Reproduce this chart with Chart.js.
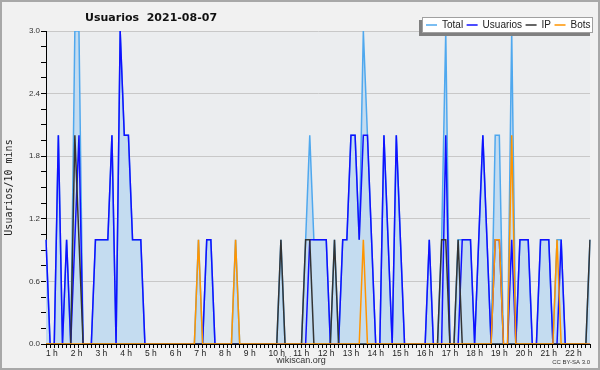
<!DOCTYPE html>
<html>
<head>
<meta charset="utf-8">
<script src="https://cdn.jsdelivr.net/npm/chart.js@4.4.0/dist/chart.umd.min.js"></script>
<style>
html,body{margin:0;padding:0;background:#f1f1f1;}
</style>
</head>
<body>
<canvas id="myChart" width="600" height="370"></canvas>
<script>
// hour labels, one every 6 slots of 10 minutes (first slot is 1:00)
const hourLabels=["1 h","2 h","3 h","4 h","5 h","6 h","7 h","8 h","9 h","10 h","11 h",
  "12 h","13 h","14 h","15 h","16 h","17 h","18 h","19 h","20 h","21 h","22 h"];
const yTicks=[0,0.6,1.2,1.8,2.4,3.0];

const total=[
1,0,0,2,0,1, 0,3,3,0,0,0, 1,1,1,1,2,0, 3,2,2,1,1,1,
0,0,0,0,0,0, 0,0,0,0,0,0, 0,1,0,1,1,0, 0,0,0,0,1,0,
0,0,0,0,0,0, 0,0,0,1,0,0, 0,0,0,1,2,1, 1,1,1,0,1,0,
1,1,2,2,1,3, 2,1,0,0,2,1, 0,2,1,0,0,0, 0,0,0,1,0,0,
1,3,0,0,1,1, 1,1,0,1,2,1, 0,2,2,0,0,3, 0,1,1,1,0,0,
1,1,1,0,1,1, 0,0,0,0,0,0, 1];
const usuarios=[
1,0,0,2,0,1, 0,1,2,0,0,0, 1,1,1,1,2,0, 3,2,2,1,1,1,
0,0,0,0,0,0, 0,0,0,0,0,0, 0,0,0,1,1,0, 0,0,0,0,0,0,
0,0,0,0,0,0, 0,0,0,0,0,0, 0,0,0,0,1,1, 1,1,1,0,0,0,
1,1,2,2,1,2, 2,1,0,0,2,1, 0,2,1,0,0,0, 0,0,0,1,0,0,
0,2,0,0,0,1, 1,1,0,1,2,1, 0,1,1,0,0,1, 0,1,1,1,0,0,
1,1,1,0,0,1, 0,0,0,0,0,0, 0];
const ip=[
0,0,0,0,0,0, 0,2,1,0,0,0, 0,0,0,0,0,0, 0,0,0,0,0,0,
0,0,0,0,0,0, 0,0,0,0,0,0, 0,0,0,0,0,0, 0,0,0,0,0,0,
0,0,0,0,0,0, 0,0,0,1,0,0, 0,0,0,1,1,0, 0,0,0,0,1,0,
0,0,0,0,0,0, 0,0,0,0,0,0, 0,0,0,0,0,0, 0,0,0,0,0,0,
1,1,0,0,1,0, 0,0,0,0,0,0, 0,0,0,0,0,0, 0,0,0,0,0,0,
0,0,0,0,0,0, 0,0,0,0,0,0, 1];
const bots=[
0,0,0,0,0,0, 0,0,0,0,0,0, 0,0,0,0,0,0, 0,0,0,0,0,0,
0,0,0,0,0,0, 0,0,0,0,0,0, 0,1,0,0,0,0, 0,0,0,0,1,0,
0,0,0,0,0,0, 0,0,0,0,0,0, 0,0,0,0,0,0, 0,0,0,0,0,0,
0,0,0,0,0,1, 0,0,0,0,0,0, 0,0,0,0,0,0, 0,0,0,0,0,0,
0,0,0,0,0,0, 0,0,0,0,0,0, 0,1,1,0,0,2, 0,0,0,0,0,0,
0,0,0,0,1,0, 0,0,0,0,0,0, 0];

const labels=total.map((v,i)=> (i%6==0 && hourLabels[i/6]) ? hourLabels[i/6] : "");

const decor={
  id:"decor",
  beforeDraw(chart){
    const c=chart.ctx, a=chart.chartArea;
    c.save();
    c.fillStyle="#f1f1f1";
    c.fillRect(0,0,chart.width,chart.height);
    c.fillStyle="#ebedef";
    c.fillRect(a.left,a.top,a.right-a.left,a.bottom-a.top);
    c.restore();
  },
  afterDraw(chart){
    const c=chart.ctx;
    c.save();
    // title
    c.fillStyle="#111";
    c.font="bold 11px 'DejaVu Sans'";
    c.textAlign="left";
    c.textBaseline="alphabetic";
    c.fillText("Usuarios  2021-08-07",85,20.5);
    // footer
    c.fillStyle="#333";
    c.font="9px 'Liberation Sans'";
    c.textAlign="center";
    c.textBaseline="middle";
    c.fillText("wikiscan.org",301,361);
    c.font="6px 'Liberation Sans'";
    c.textAlign="right";
    c.fillText("CC BY-SA 3.0",590,362);
    // legend box with shadow
    c.fillStyle="#808080";
    c.fillRect(419,20,171,16);
    c.fillStyle="#ffffff";
    c.fillRect(422,17,171,15);
    c.strokeStyle="#a0a0a0";
    c.lineWidth=1;
    c.strokeRect(422.5,17.5,170,15);
    c.font="10px 'Liberation Sans'";
    c.textAlign="left";
    let x=426;
    chart.data.datasets.forEach(ds=>{
      c.strokeStyle=ds.borderColor;
      c.lineWidth=1.5;
      c.beginPath();
      c.moveTo(x,25);
      c.lineTo(x+11,25);
      c.stroke();
      c.fillStyle="#222";
      c.fillText(ds.label,x+16,25);
      x=x+16+c.measureText(ds.label).width+3.5;
    });
    // outer frame
    c.strokeStyle="#a8a8a8";
    c.lineWidth=2;
    c.strokeRect(1,1,chart.width-2,chart.height-2);
    c.restore();
  }
};

const ctx=document.getElementById("myChart");
const myChart=new Chart(ctx,{
  type:"line",
  data:{
    labels:labels,
    datasets:[
      {label:"Total",data:total,borderColor:"#4fa8ee",backgroundColor:"#c4dcf0",fill:"origin",order:4},
      {label:"Usuarios",data:usuarios,borderColor:"#1010ff",fill:false,order:3},
      {label:"IP",data:ip,borderColor:"#333333",fill:false,order:2},
      {label:"Bots",data:bots,borderColor:"#ff9500",fill:false,order:1}
    ]
  },
  options:{
    responsive:false,
    animation:false,
    layout:{padding:{left:0,right:10,top:31,bottom:12}},
    elements:{point:{radius:0},line:{tension:0,borderWidth:1.5}},
    plugins:{legend:{display:false},tooltip:{enabled:false}},
    scales:{
      x:{
        afterFit(scale){scale.height=14;},
        grid:{drawOnChartArea:false,color:"#000",tickLength:4},
        border:{color:"#000"},
        ticks:{autoSkip:false,maxRotation:0,minRotation:0,align:"start",padding:1,
          color:"#222",font:{family:"Liberation Sans",size:8.5},
          callback:(v,i)=>labels[i]}
      },
      y:{
        min:yTicks[0],max:yTicks[yTicks.length-1],
        afterFit(scale){scale.width=46;},
        border:{color:"#000"},
        grid:{color:(c)=> c.index%4==0 ? "#c8c8c8" : "rgba(0,0,0,0)",tickColor:"#000",tickLength:5},
        ticks:{stepSize:0.15,autoSkip:false,padding:1,color:"#333",
          font:{family:"Liberation Sans",size:8},
          callback:(v,i)=> i%4==0 ? v.toFixed(1) : ""},
        title:{display:true,text:"Usuarios/10 mins",color:"#222",
          font:{family:"DejaVu Sans Mono",size:10},padding:{top:3,bottom:0}}
      }
    }
  },
  plugins:[decor]
});
</script>
</body>
</html>
